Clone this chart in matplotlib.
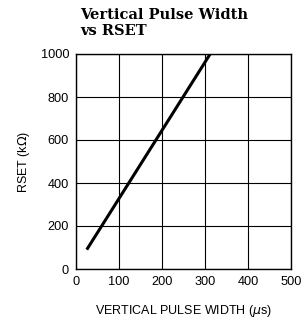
import matplotlib
matplotlib.use("Agg")
import matplotlib.pyplot as plt

# pulse width (us) vs RSET (kohm)
width_us = [25, 312]
rset_kohm = [90, 1000]

xticks = [0, 100, 200, 300, 400, 500]
yticks = [0, 200, 400, 600, 800, 1000]

plt.rcParams['font.family'] = ['Liberation Sans', 'DejaVu Sans']

fig = plt.figure(figsize=(3.05, 3.24), dpi=100)
ax = fig.add_axes([76/305, 1 - 269/324, 215/305, 215/324])

ax.plot(width_us, rset_kohm, color='black', lw=2.2, solid_capstyle='butt')

ax.set_xlim(0, 500)
ax.set_ylim(0, 1000)
ax.set_xticks(xticks)
ax.set_yticks(yticks)
ax.tick_params(length=0, labelsize=9.2, pad=5)
ax.grid(True, color='black', lw=0.8)
for s in ax.spines.values():
    s.set_linewidth(1.0)

ax.set_xlabel('VERTICAL PULSE WIDTH ($\\mu$s)', fontsize=9, labelpad=11)
ax.set_ylabel('RSET (k$\\Omega$)', fontsize=9, labelpad=6)

fig.text(80/305, 1 - 23/324, 'Vertical Pulse Width\nvs RSET', family='DejaVu Serif',
         weight='bold', fontsize=10.5, ha='left', va='center', linespacing=1.15)

fig.savefig('out.png', dpi=100)
